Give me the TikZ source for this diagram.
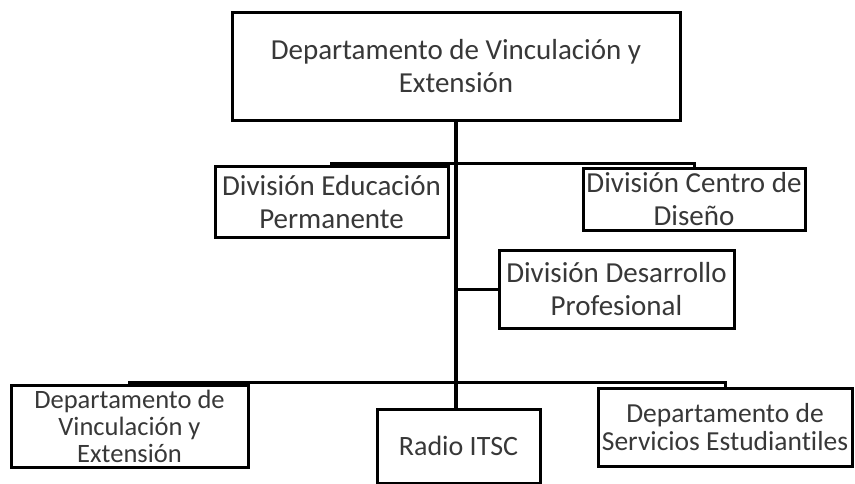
\documentclass[tikz,border=0pt]{standalone}
\usepackage{fontspec}
\setmainfont[Ligatures=NoCommon]{Carlito}
\begin{document}
\begin{tikzpicture}[x=1pt,y=-1pt,
  box/.style={draw=black,line width=3pt,fill=white,rectangle,inner sep=0pt,align=center,text=black!78},
  big/.style={font=\fontsize{29}{33}\selectfont},
  mid/.style={font=\fontsize{28}{30}\selectfont},
  small/.style={font=\fontsize{26.5}{27}\selectfont},
  conn/.style={draw=black,line width=3pt},
  trunk/.style={draw=black,line width=4.5pt}]
\useasboundingbox (0,0) rectangle (855,483);
% nodes: centre at ((l+r)/2,(t+b)/2), size (r-l, b-t)
\node[box,big,minimum width=448pt,minimum height=108pt] (top) at (456,66) {Departamento de Vinculación y\\Extensión};
\node[box,big,minimum width=233pt,minimum height=71pt] (edu) at (331.5,202) {División Educación\\Permanente};
\node[box,big,minimum width=222pt,minimum height=62pt] (cen) at (694,199) {División Centro de\\Diseño};
\node[box,big,minimum width=235pt,minimum height=78pt] (des) at (616.5,289) {División Desarrollo\\Profesional};
\node[box,small,minimum width=237pt,minimum height=82pt] (lb) at (129.5,426) {Departamento de\\Vinculación y\\Extensión};
\node[box,mid,minimum width=163pt,minimum height=74pt] (radio) at (458.5,446) {Radio ITSC};
\node[box,font=\fontsize{27.5}{28}\selectfont,minimum width=254pt,minimum height=78pt] (rb) at (725,427) {Departamento de\\Servicios Estudiantiles};
\coordinate (j1) at (457,163);
\coordinate (j2) at (457,289);
\coordinate (j3) at (457,382);
\draw[trunk] (top.south) -- (top.south |- radio.north);
\draw[conn] (j1) -| (edu.north);
\draw[conn] (j1) -| (cen.north);
\draw[conn] (j2) -- (des.west);
\draw[conn] (j3) -| (lb.north);
\draw[conn] (j3) -| (rb.north);
\end{tikzpicture}
\end{document}
